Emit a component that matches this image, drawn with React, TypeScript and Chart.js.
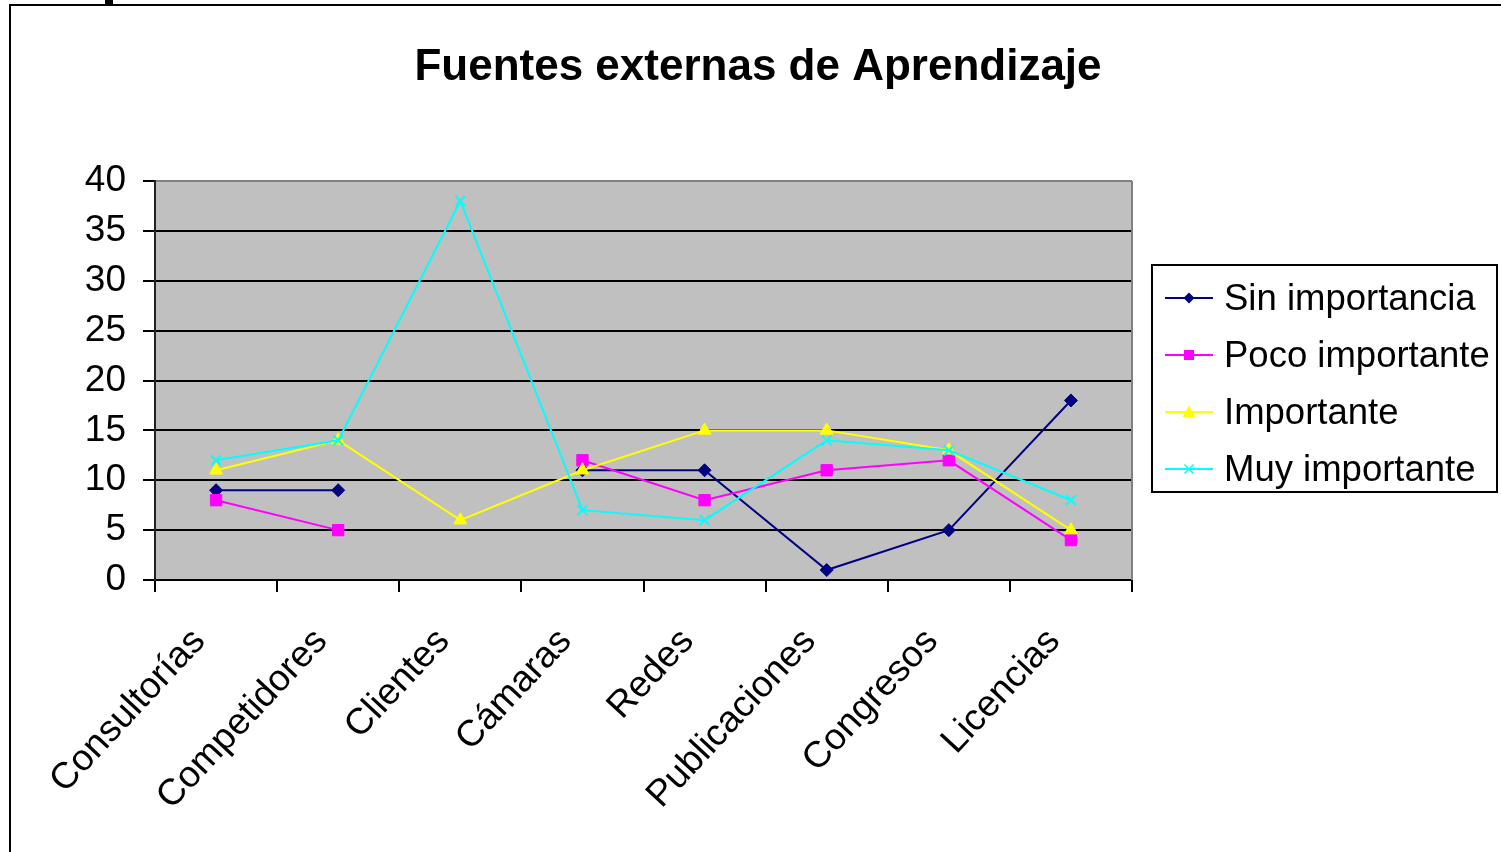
import React, { useEffect, useRef } from "react";
import { Chart, registerables } from "chart.js";

Chart.register(...registerables);

const chartTitle = "Fuentes externas de Aprendizaje";
const categories = [
  "Consultorías",
  "Competidores",
  "Clientes",
  "Cámaras",
  "Redes",
  "Publicaciones",
  "Congresos",
  "Licencias",
];
const seriesNames = ["Sin importancia", "Poco importante", "Importante", "Muy importante"];
const sinImportancia = [9, 9, null, 11, 11, 1, 5, 18];
const pocoImportante = [8, 5, null, 12, 8, 11, 12, 4];
const importante = [11, 14, 6, 11, 15, 15, 13, 5];
const muyImportante = [12, 14, 38, 7, 6, 14, 13, 8];
const yMin = 0;
const yMax = 40;
const yStep = 5;

const colors = ["#000080", "#FF00FF", "#FFFF00", "#00FFFF"];
const pointStyles = ["rectRot", "rect", "triangle", "crossRot"];
const pointRadii = [6.5, 8, 7.5, 7];
const FONT = "'Liberation Sans', Arial, Helvetica, sans-serif";

function drawLegendMarker(ctx: CanvasRenderingContext2D, style: string, x: number, y: number, color: string) {
  ctx.save();
  ctx.fillStyle = color;
  ctx.strokeStyle = color;
  ctx.lineWidth = 1.5;
  ctx.beginPath();
  if (style === "rectRot") {
    const r = 5.5;
    ctx.moveTo(x, y - r);
    ctx.lineTo(x + r, y);
    ctx.lineTo(x, y + r);
    ctx.lineTo(x - r, y);
    ctx.closePath();
    ctx.fill();
  } else if (style === "rect") {
    const h = 5;
    ctx.rect(x - h, y - h, 2 * h, 2 * h);
    ctx.fill();
  } else if (style === "triangle") {
    const r = 6.5;
    ctx.moveTo(x, y - r);
    ctx.lineTo(x + r, y + r * 0.75);
    ctx.lineTo(x - r, y + r * 0.75);
    ctx.closePath();
    ctx.fill();
  } else {
    const h = 4.5;
    ctx.moveTo(x - h, y - h);
    ctx.lineTo(x + h, y + h);
    ctx.moveTo(x + h, y - h);
    ctx.lineTo(x - h, y + h);
    ctx.stroke();
  }
  ctx.restore();
}

const decorPlugin = {
  id: "decor",
  beforeDraw(chart: any) {
    const { ctx, chartArea } = chart;
    ctx.save();
    ctx.fillStyle = "#C0C0C0";
    ctx.fillRect(chartArea.left, chartArea.top, chartArea.right - chartArea.left, chartArea.bottom - chartArea.top);
    ctx.restore();
  },
  afterDraw(chart: any) {
    const { ctx, chartArea } = chart;
    ctx.save();
    // plot area right border (gray)
    ctx.strokeStyle = "#808080";
    ctx.lineWidth = 2;
    ctx.beginPath();
    ctx.moveTo(chartArea.right, chartArea.top);
    ctx.lineTo(chartArea.right, chartArea.bottom);
    ctx.stroke();

    // title
    ctx.fillStyle = "#000";
    ctx.font = `bold 44px ${FONT}`;
    ctx.textAlign = "center";
    ctx.textBaseline = "alphabetic";
    ctx.fillText(chartTitle, 758, 80);

    // legend
    const lx = 1152, ly = 265, lw = 345, lh = 227;
    ctx.fillStyle = "#FFFFFF";
    ctx.fillRect(lx, ly, lw, lh);
    ctx.strokeStyle = "#000";
    ctx.lineWidth = 2;
    ctx.strokeRect(lx, ly, lw, lh);
    ctx.font = `36.5px ${FONT}`;
    ctx.textAlign = "left";
    ctx.textBaseline = "middle";
    chart.data.datasets.forEach((ds: any, i: number) => {
      const cy = 298 + i * 57;
      ctx.strokeStyle = colors[i];
      ctx.lineWidth = 2;
      ctx.beginPath();
      ctx.moveTo(1165, cy);
      ctx.lineTo(1213, cy);
      ctx.stroke();
      drawLegendMarker(ctx, pointStyles[i], 1189, cy, colors[i]);
      ctx.fillStyle = "#000";
      ctx.fillText(ds.label, 1224, cy + 2);
    });
    ctx.restore();
  },
};

export default function App() {
  const canvasRef = useRef<HTMLCanvasElement | null>(null);

  useEffect(() => {
    if (!canvasRef.current) return;
    const seriesData = [sinImportancia, pocoImportante, importante, muyImportante];
    const chart = new Chart(canvasRef.current, {
      type: "line",
      data: {
        labels: categories,
        datasets: seriesData.map((d, i) => ({
          label: seriesNames[i],
          data: d,
          borderColor: colors[i],
          backgroundColor: colors[i],
          pointBackgroundColor: colors[i],
          pointBorderColor: colors[i],
          pointStyle: pointStyles[i] as any,
          pointRadius: pointRadii[i],
          pointBorderWidth: i === 3 ? 2 : 1,
          borderWidth: 2,
          tension: 0,
          spanGaps: false,
          fill: false,
          order: 3 - i,
        })),
      },
      options: {
        responsive: false,
        animation: false,
        devicePixelRatio: 1,
        layout: { padding: { top: 181, right: 369, left: 0, bottom: 0 } },
        plugins: {
          legend: { display: false },
          title: { display: false },
          tooltip: { enabled: false },
        },
        scales: {
          x: {
            type: "category",
            offset: true,
            afterFit: (s: any) => {
              s.height = 272;
            },
            grid: {
              offset: true,
              drawOnChartArea: false,
              drawTicks: true,
              tickLength: 12,
              color: "#000",
              lineWidth: 2,
            },
            border: { display: true, color: "#000", width: 2 },
            ticks: {
              autoSkip: false,
              maxRotation: 47,
              minRotation: 47,
              padding: 28,
              labelOffset: -17,
              color: "#000",
              font: { family: FONT, size: 37 },
            },
          },
          y: {
            min: yMin,
            max: yMax,
            afterFit: (s: any) => {
              s.width = 155;
            },
            grid: {
              color: (c: any) => (c.tick && c.tick.value === yMax ? "#808080" : "#000"),
              lineWidth: 2,
              tickLength: 12,
              tickColor: "#000",
              drawTicks: true,
            },
            border: { display: true, color: "#222", width: 2 },
            ticks: {
              stepSize: yStep,
              padding: 17,
              color: "#000",
              font: { family: FONT, size: 37 },
            },
          },
        },
      },
      plugins: [decorPlugin],
    });
    return () => chart.destroy();
  }, []);

  return (
    <div
      style={{
        position: "fixed",
        left: 0,
        top: 0,
        width: 1501,
        height: 852,
        overflow: "hidden",
        background: "#fff",
      }}
    >
      <div
        style={{
          position: "absolute",
          left: 9,
          top: 4,
          width: 1600,
          height: 1000,
          border: "2px solid #000",
        }}
      />
      <div style={{ position: "absolute", left: 105, top: 0, width: 8, height: 5, background: "#000" }} />
      <canvas
        ref={canvasRef}
        width={1501}
        height={852}
        style={{ position: "absolute", left: 0, top: 0, width: 1501, height: 852 }}
      />
    </div>
  );
}
